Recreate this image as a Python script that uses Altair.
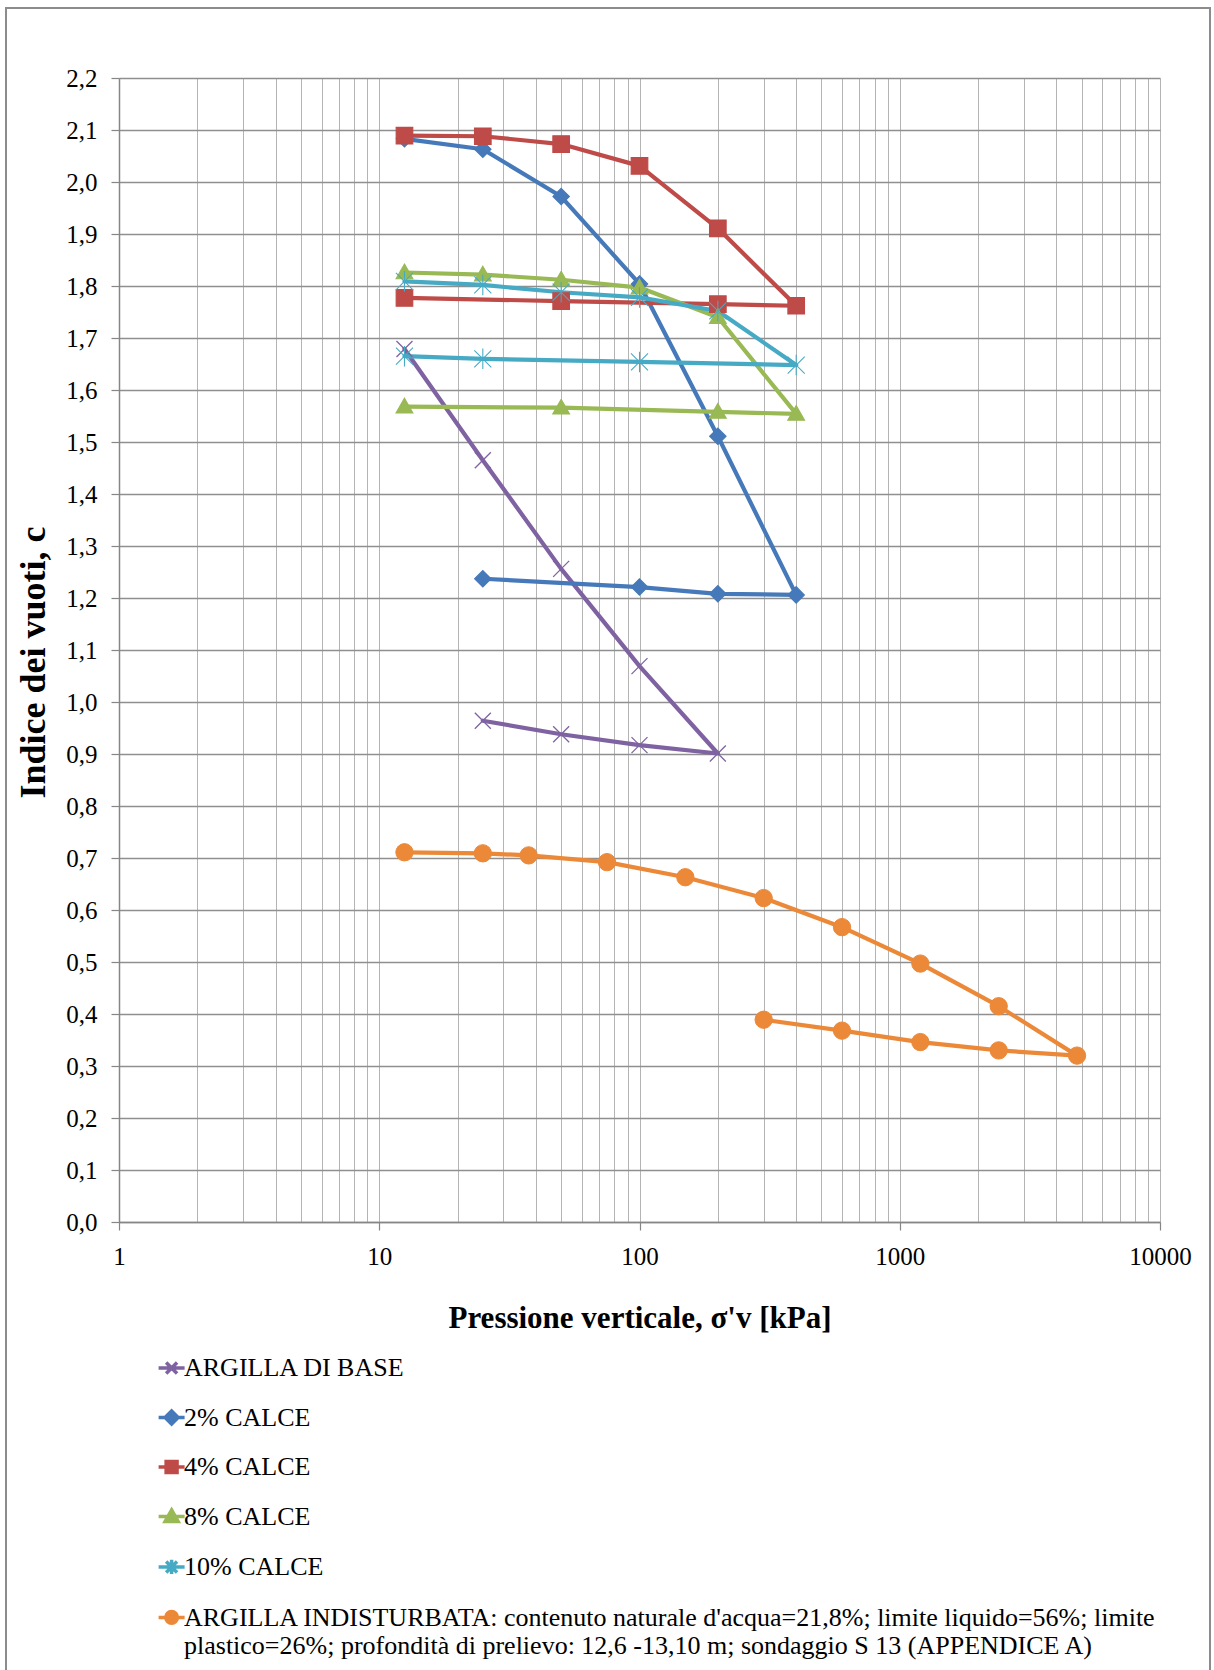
import json
import altair as alt
import pandas as pd

# ---------------- data ----------------
series_names = ["ARGILLA DI BASE", "2% CALCE", "4% CALCE", "8% CALCE", "10% CALCE", "ARGILLA INDISTURBATA"]
series_colors = ["#7F62A1", "#4679B9", "#BE4B48", "#98B954", "#46AAC5", "#EB8939"]

base_p = [12.5, 25, 50, 100, 200, 100, 50, 25]
base_e = [1.679, 1.465, 1.256, 1.069, 0.901, 0.917, 0.938, 0.964]

calce2_p = [12.5, 25, 50, 100, 200, 400, 200, 100, 25]
calce2_e = [2.083, 2.063, 1.972, 1.804, 1.511, 1.206, 1.208, 1.221, 1.237]

calce4_p = [12.5, 25, 50, 100, 200, 400, 200, 50, 12.5]
calce4_e = [2.089, 2.088, 2.073, 2.031, 1.911, 1.762, 1.765, 1.771, 1.777]

calce8_p = [12.5, 25, 50, 100, 200, 400, 200, 50, 12.5]
calce8_e = [1.826, 1.822, 1.812, 1.797, 1.740, 1.554, 1.558, 1.566, 1.568]

calce10_p = [12.5, 25, 50, 100, 200, 400, 100, 25, 12.5]
calce10_e = [1.809, 1.802, 1.788, 1.778, 1.752, 1.648, 1.654, 1.660, 1.665]

indist_p = [12.5, 25, 37.5, 75, 150, 300, 600, 1200, 2400, 4800, 2400, 1200, 600, 300]
indist_e = [0.711, 0.709, 0.705, 0.692, 0.663, 0.623, 0.567, 0.497, 0.415, 0.320, 0.330, 0.346, 0.368, 0.389]

y_ticks = [0.0, 0.1, 0.2, 0.3, 0.4, 0.5, 0.6, 0.7, 0.8, 0.9, 1.0, 1.1,
           1.2, 1.3, 1.4, 1.5, 1.6, 1.7, 1.8, 1.9, 2.0, 2.1, 2.2]
x_grid = [1, 2, 3, 4, 5, 6, 7, 8, 9,
          10, 20, 30, 40, 50, 60, 70, 80, 90,
          100, 200, 300, 400, 500, 600, 700, 800, 900,
          1000, 2000, 3000, 4000, 5000, 6000, 7000, 8000, 9000, 10000]
x_labels = [1, 10, 100, 1000, 10000]

legend_last_lines = [
    "ARGILLA INDISTURBATA: contenuto naturale d'acqua=21,8%;  limite liquido=56%; limite",
    "plastico=26%; profondità di prelievo: 12,6 -13,10 m; sondaggio S 13 (APPENDICE A)",
]

# ---------------- table ----------------
all_series = [
    (series_names[0], base_p, base_e),
    (series_names[1], calce2_p, calce2_e),
    (series_names[2], calce4_p, calce4_e),
    (series_names[3], calce8_p, calce8_e),
    (series_names[4], calce10_p, calce10_e),
    (series_names[5], indist_p, indist_e),
]
rows = []
for name, ps, es in all_series:
    for i, (p, e) in enumerate(zip(ps, es)):
        rows.append({"series": name, "p": p, "e": e, "idx": i})
df = pd.DataFrame(rows)

# ---------------- styles ----------------
FONT = "Liberation Serif"
marker_paths = [
    "M-1,-1L1,1M-1,1L1,-1",
    "M0,-1L1,0L0,1L-1,0Z",
    "M-1,-1L1,-1L1,1L-1,1Z",
    "M0,-1L1,0.75L-1,0.75Z",
    "M-1,-1L1,1M-1,1L1,-1M0,-1.2L0,1.2",
    "circle",
]
marker_sizes = [256, 300, 350, 380, 300, 340]
marker_strokes = [1.3, 1, 1, 1, 1.3, 1]

# legend symbols: a line segment plus the marker; raised so that they line up
# with the first text line (labels use an alphabetic baseline)
LY = -0.62
LX = 0.2


def P(x, y):
    return f"{x + LX:.3f},{y + LY:.3f}"


legend_paths = [
    f"M{P(-1,0)}L{P(1,0)}M{P(-0.42,-0.42)}L{P(0.42,0.42)}M{P(-0.42,0.42)}L{P(0.42,-0.42)}",
    f"M{P(-1,0)}L{P(1,0)}M{P(0,-0.5)}L{P(0.5,0)}L{P(0,0.5)}L{P(-0.5,0)}Z",
    f"M{P(-1,0)}L{P(1,0)}M{P(-0.42,-0.42)}L{P(0.42,-0.42)}L{P(0.42,0.42)}L{P(-0.42,0.42)}Z",
    f"M{P(-1,0)}L{P(1,0)}M{P(0,-0.5)}L{P(0.5,0.38)}L{P(-0.5,0.38)}Z",
    f"M{P(-1,0)}L{P(1,0)}M{P(-0.42,-0.42)}L{P(0.42,0.42)}M{P(-0.42,0.42)}L{P(0.42,-0.42)}M{P(0,-0.55)}L{P(0,0.55)}",
    f"M{P(-1,0)}L{P(1,0)}M{P(0.45,0)}A0.45,0.45 0 1 1 {P(-0.45,0)}A0.45,0.45 0 1 1 {P(0.45,0)}Z",
]

decade_test = " || ".join(f"datum.value == {v}" for v in x_labels)

x_enc = alt.X(
    "p:Q",
    scale=alt.Scale(type="log", domain=[1, 10000], nice=False),
    title="Pressione verticale, σ'v [kPa]",
    axis=alt.Axis(
        values=x_grid, format="d",
        labelExpr=f"({decade_test}) ? datum.label : ''",
        labelOverlap=False, labelFlush=False,
        labelFont=FONT, labelFontSize=25, labelColor="black", labelPadding=14,
        tickSize=8, tickColor="#868686", tickWidth=1.2,
        tickOpacity={"condition": {"test": decade_test, "value": 1}, "value": 0},
        domainColor="#868686", domainWidth=1.5,
        gridColor="#b4b4b4", gridWidth=1,
        titleFont=FONT, titleFontSize=31, titleFontWeight="bold", titleColor="black",
        titleY=96, titleBaseline="middle",
    ),
)
y_enc = alt.Y(
    "e:Q",
    scale=alt.Scale(domain=[0, 2.2], nice=False, zero=False),
    title="Indice dei vuoti, c",
    axis=alt.Axis(
        values=y_ticks,
        labelExpr="replace(format(datum.value, '.1f'), '.', ',')",
        labelOverlap=False,
        labelFont=FONT, labelFontSize=25, labelColor="black", labelPadding=14,
        tickSize=8, tickColor="#868686", tickWidth=1.2,
        domainColor="#868686", domainWidth=1.5,
        gridColor="#8f8f8f", gridWidth=1.3,
        titleFont=FONT, titleFontSize=36, titleFontWeight="bold", titleColor="black",
        titleX=-86, titleY=584, titleAngle=270, titleBaseline="middle", titleAlign="center",
    ),
)

lines = alt.Chart(df).mark_line(strokeWidth=4.2, strokeJoin="round", strokeCap="round").encode(
    x=x_enc, y=y_enc,
    color=alt.Color("series:N", scale=alt.Scale(domain=series_names, range=series_colors), legend=None),
    order="idx:Q",
)

points = alt.Chart(df).mark_point(opacity=1, fillOpacity=1).encode(
    x=x_enc, y=y_enc,
    shape=alt.Shape("series:N", scale=alt.Scale(domain=series_names, range=marker_paths), legend=None),
    fill=alt.Fill("series:N", scale=alt.Scale(domain=series_names, range=series_colors), legend=None),
    stroke=alt.Stroke("series:N", scale=alt.Scale(domain=series_names, range=series_colors), legend=None),
    size=alt.Size("series:N", scale=alt.Scale(domain=series_names, range=marker_sizes), legend=None),
    strokeWidth=alt.StrokeWidth("series:N", scale=alt.Scale(domain=series_names, range=marker_strokes), legend=None),
)

label_expr = f"datum.label == {json.dumps(series_names[5])} ? {json.dumps(legend_last_lines, ensure_ascii=False)} : datum.label"
leg = dict(
    title=None, orient="none", legendX=35, legendY=1283, direction="vertical",
    labelFont=FONT, labelFontSize=26, labelColor="black", labelLimit=1150, labelOffset=0,
    labelBaseline="alphabetic",
    symbolSize=676, symbolStrokeWidth=3.5, symbolOpacity=1, rowPadding=22.5, padding=0,
    labelExpr=label_expr,
)
legend_layer = alt.Chart(df).transform_filter("datum.p < 0").mark_point(
    opacity=1, fillOpacity=1, size=676, strokeWidth=3.5
).encode(
    x=x_enc, y=y_enc,
    shape=alt.Shape("series:N", scale=alt.Scale(domain=series_names, range=legend_paths), legend=alt.Legend(**leg)),
    fill=alt.Fill("series:N", scale=alt.Scale(domain=series_names, range=series_colors), legend=alt.Legend(**leg)),
    stroke=alt.Stroke("series:N", scale=alt.Scale(domain=series_names, range=series_colors), legend=alt.Legend(**leg)),
)

frame = alt.Chart(pd.DataFrame({"k": [0]})).mark_rect(
    fillOpacity=0, stroke="#8c8c8c", strokeWidth=2
).encode(
    x=alt.value(-113), x2=alt.value(1091), y=alt.value(-70), y2=alt.value(1650)
)

chart = alt.layer(frame, lines, points, legend_layer).resolve_scale(
    shape="independent", fill="independent", stroke="independent",
    size="independent", strokeWidth="independent",
).properties(
    width=1041, height=1144,
    autosize=alt.AutoSizeParams(type="none"),
    padding={"left": 119, "top": 78, "right": 54, "bottom": 448},
    background="white",
).configure_view(stroke=None)

chart.save("out.html", embed_options={"renderer": "svg", "actions": False})
